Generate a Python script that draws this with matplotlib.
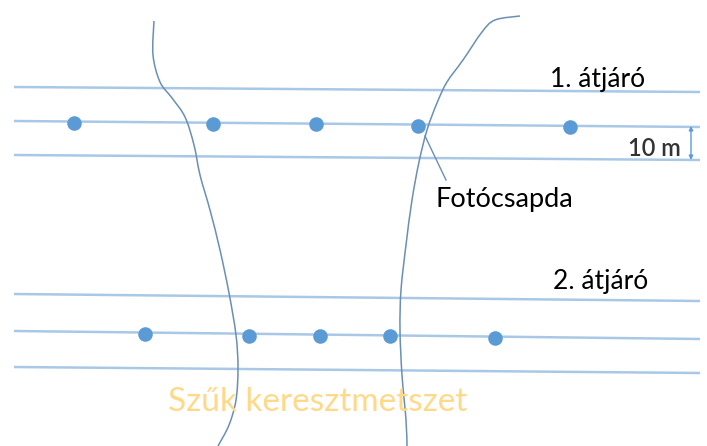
import numpy as np
import matplotlib
matplotlib.use('Agg')
import matplotlib.pyplot as plt
from matplotlib.path import Path
from matplotlib.patches import PathPatch

# pixel-space diagram data (x to the right, y downward)
line_x = [14, 700]
lanes_1 = [(87, 92), (121, 127), (155, 160)]      # 1. átjáró: edge, centre, edge
lanes_2 = [(294, 301), (331, 339), (367, 373)]    # 2. átjáró
traps_1_x = [74, 213, 316, 418, 570]
traps_1_y = [123, 124, 124, 126, 127]
traps_2_x = [145, 249, 320, 390, 495]
traps_2_y = [334, 336, 336, 336, 338]

# banks of the narrow cross-section (rough sketch points)
left_bank_x = [154, 153, 160, 172, 185, 194, 200, 210, 220, 229, 236, 238, 236, 229, 218]
left_bank_y = [21, 55, 82, 98, 117, 145, 175, 210, 250, 293, 335, 368, 400, 425, 446]
right_bank_x = [520, 495, 482, 463, 447, 437, 427, 419, 412, 406, 401, 400, 402, 406, 407]
right_bank_y = [16, 20, 32, 60, 82, 103, 130, 162, 200, 245, 290, 330, 375, 420, 446]

lane_color = '#a9c8e6'
trap_color = '#5b9bd5'
bank_color = '#6a8fb5'


def smooth_path(xs, ys):
    # Catmull-Rom through the sketch points, written as cubic bezier segments
    pts = np.column_stack([xs, ys]).astype(float)
    verts = [pts[0]]
    codes = [Path.MOVETO]
    for i in range(len(pts) - 1):
        p0 = pts[max(i - 1, 0)]
        p1 = pts[i]
        p2 = pts[i + 1]
        p3 = pts[min(i + 2, len(pts) - 1)]
        verts += [p1 + (p2 - p0) / 6, p2 - (p3 - p1) / 6, p2]
        codes += [Path.CURVE4] * 3
    return Path(verts, codes)


fig = plt.figure(figsize=(7.07, 4.46), dpi=100)
ax = fig.add_axes([0, 0, 1, 1])
ax.set_xlim(0, 707)
ax.set_ylim(446, 0)
ax.axis('off')

for y0, y1 in lanes_1 + lanes_2:
    ax.plot(line_x, [y0, y1], color=lane_color, lw=1.8, solid_capstyle='butt', zorder=1)

for bx, by in [(left_bank_x, left_bank_y), (right_bank_x, right_bank_y)]:
    ax.add_patch(PathPatch(smooth_path(bx, by), fill=False, edgecolor=bank_color,
                           lw=1.1, zorder=2))

ax.scatter(traps_1_x, traps_1_y, s=110, color=trap_color, zorder=3, linewidths=0)
ax.scatter(traps_2_x, traps_2_y, s=110, color=trap_color, zorder=3, linewidths=0)

# pointer to a camera trap
ax.plot([425, 446], [136, 180], color=bank_color, lw=1.0, zorder=2)

# 10 m spacing marker
ax.annotate('', xy=(691, 126), xytext=(691, 160),
            arrowprops=dict(arrowstyle='<|-|>', color=trap_color, lw=1.0,
                            mutation_scale=6, shrinkA=0, shrinkB=0))

font = ['Lato', 'DejaVu Sans']
ax.text(550, 80, '1. átjáró', fontsize=19, family=font, va='center', ha='left', color='black')
ax.text(553, 282, '2. átjáró', fontsize=19, family=font, va='center', ha='left', color='black')
ax.text(435, 200, 'Fotócsapda', fontsize=19.5, family=font, va='center', ha='left', color='black')
ax.text(681, 149, '10 m', fontsize=17, family=font, va='center', ha='right', color='#333333',
        fontweight='semibold')
ax.text(168, 402, 'Szűk keresztmetszet', fontsize=24, family=font, va='center', ha='left',
        color='#ffd98a')

fig.savefig('out.png', dpi=100)
